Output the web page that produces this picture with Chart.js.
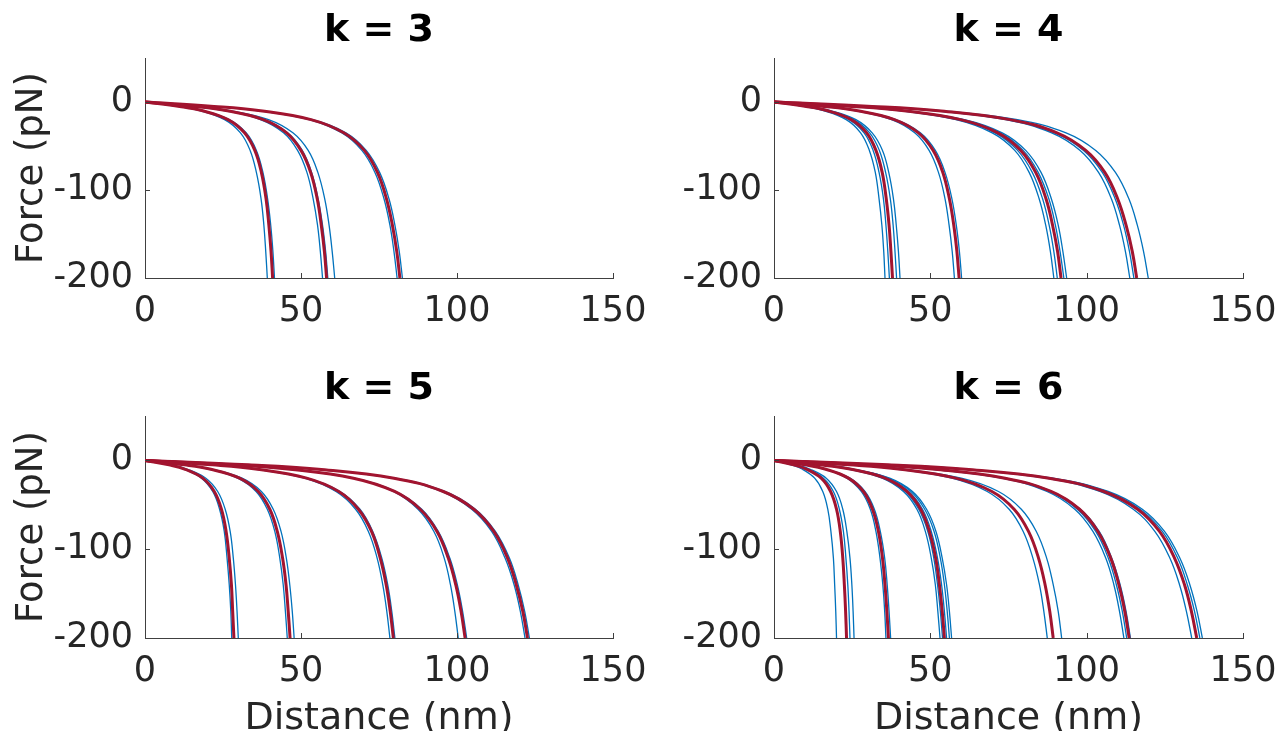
<!DOCTYPE html>
<html>
<head>
<meta charset="utf-8">
<script src="https://cdn.jsdelivr.net/npm/chart.js@4.4.0/dist/chart.umd.min.js"></script>
<style>
html, body { margin: 0; padding: 0; background: #fff; overflow: hidden; }
body { width: 1279px; height: 731px; position: relative; }
.panel { position: absolute; }
</style>
</head>
<body>
<div class="panel" style="left:640px;top:0px"><canvas id="k4" width="639" height="345"></canvas></div>
<div class="panel" style="left:640px;top:358px"><canvas id="k6" width="639" height="380"></canvas></div>
<div class="panel" style="left:0px;top:0px"><canvas id="k3" width="660" height="345"></canvas></div>
<div class="panel" style="left:0px;top:358px"><canvas id="k5" width="660" height="380"></canvas></div>
<script>
// Niveaux de force (pN) ou chaque courbe est relevee
const forceLevels = [0, -5, -10, -20, -35, -55, -80, -110, -140, -170, -200];
const xTicks = [0, 50, 100, 150];
const yTicks = [-200, -100, 0];

const k3Red = [
    [0, 11.1, 18.5, 26.6, 31.9, 35.2, 37.3, 38.8, 39.7, 40.4, 40.9],
    [0, 15.8, 26.4, 37.9, 45.4, 50.0, 53.1, 55.2, 56.5, 57.5, 58.2],
    [0, 22.1, 37.0, 53.2, 63.7, 70.3, 74.5, 77.4, 79.3, 80.7, 81.7]
];
const k3Blue = [
    [0, 10.6, 17.8, 25.5, 30.6, 33.7, 35.7, 37.2, 38.1, 38.7, 39.2],
    [0, 11.2, 18.8, 27.0, 32.4, 35.7, 37.8, 39.3, 40.3, 41.0, 41.5],
    [0, 15.4, 25.8, 37.0, 44.4, 48.9, 51.9, 53.9, 55.3, 56.2, 56.9],
    [0, 15.9, 26.6, 38.1, 45.7, 50.4, 53.4, 55.5, 56.9, 57.9, 58.6],
    [0, 16.5, 27.6, 39.6, 47.4, 52.3, 55.4, 57.6, 59.0, 60.0, 60.8],
    [0, 21.9, 36.6, 52.6, 63.0, 69.5, 73.7, 76.6, 78.5, 79.8, 80.8],
    [0, 22.3, 37.4, 53.7, 64.4, 70.9, 75.2, 78.2, 80.1, 81.5, 82.5]
];

const k4Red = [
    [0, 10.3, 17.2, 24.7, 29.6, 32.6, 34.6, 35.9, 36.8, 37.4, 37.9],
    [0, 16.0, 26.8, 38.5, 46.2, 50.9, 54.0, 56.1, 57.5, 58.5, 59.2],
    [0, 24.9, 41.6, 59.7, 71.6, 78.9, 83.7, 87.0, 89.1, 90.7, 91.8],
    [0, 31.4, 52.6, 75.5, 90.5, 99.7, 105.8, 109.9, 112.6, 114.6, 116.0]
];
const k4Blue = [
    [0, 9.6, 16.1, 23.1, 27.7, 30.5, 32.4, 33.6, 34.5, 35.1, 35.5],
    [0, 10.0, 16.7, 24.0, 28.8, 31.7, 33.6, 35.0, 35.8, 36.4, 36.9],
    [0, 10.6, 17.8, 25.5, 30.6, 33.7, 35.7, 37.2, 38.1, 38.7, 39.2],
    [0, 10.9, 18.3, 26.2, 31.4, 34.7, 36.7, 38.2, 39.1, 39.8, 40.3],
    [0, 15.6, 26.2, 37.6, 45.0, 49.6, 52.6, 54.7, 56.0, 57.0, 57.7],
    [0, 16.2, 27.2, 39.0, 46.8, 51.6, 54.7, 56.9, 58.3, 59.3, 60.0],
    [0, 24.2, 40.6, 58.2, 69.8, 77.0, 81.6, 84.8, 86.9, 88.4, 89.5],
    [0, 24.5, 41.1, 59.0, 70.7, 77.9, 82.6, 85.9, 88.0, 89.5, 90.6],
    [0, 25.1, 42.0, 60.3, 72.3, 79.7, 84.5, 87.9, 90.0, 91.5, 92.7],
    [0, 25.3, 42.4, 60.9, 73.0, 80.5, 85.4, 88.7, 90.9, 92.4, 93.6],
    [0, 30.8, 51.6, 74.1, 88.8, 97.9, 103.8, 107.9, 110.5, 112.4, 113.8],
    [0, 31.2, 52.2, 74.9, 89.8, 99.0, 105.0, 109.1, 111.8, 113.7, 115.1],
    [0, 32.4, 54.3, 77.9, 93.4, 102.9, 109.2, 113.5, 116.2, 118.2, 119.7]
];

const k5Red = [
    [0, 7.7, 12.9, 18.5, 22.2, 24.5, 26.0, 27.0, 27.7, 28.1, 28.5],
    [0, 12.6, 21.1, 30.3, 36.3, 40.0, 42.4, 44.1, 45.2, 45.9, 46.5],
    [0, 21.6, 36.1, 51.8, 62.1, 68.4, 72.6, 75.4, 77.3, 78.6, 79.6],
    [0, 27.8, 46.5, 66.8, 80.0, 88.2, 93.6, 97.2, 99.6, 101.3, 102.6],
    [0, 33.2, 55.6, 79.8, 95.6, 105.4, 111.8, 116.2, 119.0, 121.1, 122.6]
];
const k5Blue = [
    [0, 7.5, 12.6, 18.1, 21.7, 23.9, 25.4, 26.3, 27.0, 27.5, 27.8],
    [0, 8.1, 13.6, 19.5, 23.3, 25.7, 27.3, 28.3, 29.0, 29.5, 29.9],
    [0, 12.3, 20.7, 29.7, 35.6, 39.2, 41.6, 43.2, 44.3, 45.0, 45.6],
    [0, 12.9, 21.7, 31.1, 37.3, 41.1, 43.6, 45.3, 46.4, 47.2, 47.8],
    [0, 21.3, 35.6, 51.1, 61.2, 67.5, 71.6, 74.4, 76.2, 77.5, 78.5],
    [0, 21.7, 36.3, 52.1, 62.5, 68.9, 73.0, 75.9, 77.8, 79.1, 80.1],
    [0, 27.7, 46.3, 66.5, 79.6, 87.5, 92.6, 95.9, 97.9, 99.3, 100.4],
    [0, 27.9, 46.7, 67.1, 80.4, 88.7, 94.0, 97.7, 100.1, 101.8, 103.1],
    [0, 33.0, 55.2, 79.3, 95.0, 104.7, 111.1, 115.4, 118.3, 120.3, 121.8],
    [0, 33.4, 55.8, 80.2, 96.1, 105.9, 112.3, 116.8, 119.6, 121.7, 123.2]
];

const k6Red = [
    [0, 6.3, 10.5, 15.1, 18.1, 20.0, 21.2, 22.0, 22.5, 22.9, 23.2],
    [0, 9.9, 16.6, 23.8, 28.6, 31.5, 33.4, 34.7, 35.5, 36.1, 36.6],
    [0, 14.8, 24.7, 35.5, 42.5, 46.9, 49.7, 51.7, 52.9, 53.8, 54.5],
    [0, 24.2, 40.5, 58.1, 69.7, 76.8, 81.4, 84.6, 86.7, 88.2, 89.3],
    [0, 30.8, 51.5, 73.9, 88.6, 97.7, 103.6, 107.7, 110.3, 112.2, 113.6],
    [0, 36.6, 61.3, 88.0, 105.5, 116.3, 123.3, 128.1, 131.3, 133.5, 135.2]
];
const k6Blue = [
    [0, 5.4, 9.1, 13.0, 15.6, 17.2, 18.2, 19.0, 19.4, 19.75, 20.0],
    [0, 6.6, 11.0, 15.8, 19.0, 20.9, 22.2, 23.0, 23.6, 24.0, 24.3],
    [0, 6.9, 11.6, 16.7, 20.0, 22.0, 23.3, 24.3, 24.9, 25.3, 25.6],
    [0, 9.7, 16.2, 23.3, 27.9, 30.8, 32.6, 33.9, 34.8, 35.4, 35.8],
    [0, 10.1, 16.9, 24.3, 29.1, 32.1, 34.0, 35.4, 36.2, 36.8, 37.3],
    [0, 14.4, 24.1, 34.6, 41.4, 45.7, 48.4, 50.3, 51.6, 52.4, 53.1],
    [0, 14.6, 24.4, 35.1, 42.0, 46.3, 49.2, 51.1, 52.3, 53.2, 53.9],
    [0, 14.9, 25.0, 35.9, 43.1, 47.5, 50.3, 52.3, 53.6, 54.5, 55.2],
    [0, 15.2, 25.4, 36.5, 43.8, 48.2, 51.2, 53.2, 54.5, 55.4, 56.1],
    [0, 15.4, 25.7, 37.0, 44.3, 48.8, 51.8, 53.8, 55.2, 56.1, 56.8],
    [0, 23.7, 39.6, 56.9, 68.2, 75.2, 79.7, 82.8, 84.9, 86.3, 87.4],
    [0, 24.9, 41.7, 59.9, 71.8, 79.1, 83.9, 87.2, 89.3, 90.9, 92.0],
    [0, 30.3, 50.7, 72.8, 87.3, 96.2, 102.0, 106.1, 108.7, 110.5, 111.9],
    [0, 30.5, 51.1, 73.4, 88.0, 97.0, 102.9, 106.9, 109.5, 111.4, 112.8],
    [0, 30.9, 51.7, 74.2, 88.9, 98.0, 104.0, 108.0, 110.7, 112.6, 114.0],
    [0, 36.2, 60.6, 86.9, 104.2, 114.9, 121.8, 126.6, 129.7, 131.9, 133.6],
    [0, 36.9, 61.7, 88.6, 106.2, 117.1, 124.2, 129.1, 132.2, 134.5, 136.2],
    [0, 37.1, 62.1, 89.2, 106.9, 117.8, 124.9, 129.8, 133.0, 135.3, 137.0]
];

const ROUGE = '#A2142F';
const BLEU = '#0072BD';
const AXE = '#404040';
const TEXTE = '#262626';
const POLICE = 'DejaVu Sans';

// Petits traits de graduation tournes vers l'interieur (style MATLAB)
const traitsInterieurs = {
    id: 'traitsInterieurs',
    afterDatasetsDraw(chart) {
        const { ctx, chartArea, scales } = chart;
        ctx.save();
        ctx.strokeStyle = AXE;
        ctx.lineWidth = 1;
        ctx.beginPath();
        xTicks.forEach(v => {
            const px = Math.round(scales.x.getPixelForValue(v)) + 0.5;
            ctx.moveTo(px, chartArea.bottom);
            ctx.lineTo(px, chartArea.bottom - 5);
        });
        yTicks.forEach(v => {
            const py = Math.round(scales.y.getPixelForValue(v)) + 0.5;
            ctx.moveTo(chartArea.left, py);
            ctx.lineTo(chartArea.left + 5, py);
        });
        ctx.stroke();
        ctx.restore();
    }
};

function courbe(xs, couleur, epaisseur) {
    return {
        data: xs.map((x, i) => ({ x: x, y: forceLevels[i] })),
        borderColor: couleur,
        borderWidth: epaisseur,
        pointRadius: 0,
        fill: false,
        tension: 0.4
    };
}

// Construire un panneau
function panneau(id, titre, rouges, bleus, cfg) {
    const datasets = [];
    rouges.forEach(r => datasets.push(courbe(r, ROUGE, 3)));
    bleus.forEach(b => datasets.push(courbe(b, BLEU, 1.3)));

    new Chart(document.getElementById(id), {
        type: 'line',
        data: { datasets: datasets },
        plugins: [traitsInterieurs],
        options: {
            responsive: false,
            animation: false,
            events: [],
            layout: { padding: { left: 0, right: cfg.right, top: 0, bottom: 0 } },
            plugins: {
                legend: { display: false },
                tooltip: { enabled: false },
                title: {
                    display: true,
                    text: titre,
                    fullSize: false,
                    color: '#000',
                    font: { family: POLICE, size: 38, weight: 'bold', lineHeight: 1 },
                    padding: { top: 12, bottom: 8 }
                }
            },
            scales: {
                x: {
                    type: 'linear',
                    min: 0,
                    max: 150,
                    afterBuildTicks: s => { s.ticks = xTicks.map(v => ({ value: v })); },
                    afterFit: s => { s.height = cfg.xHeight; s.paddingLeft = 0; s.paddingRight = 0; },
                    grid: { display: false, drawTicks: false },
                    border: { display: true, color: AXE, width: 1 },
                    ticks: { color: TEXTE, padding: 16, maxRotation: 0, autoSkip: false,
                             font: { family: POLICE, size: 35, lineHeight: 1 } },
                    title: { display: cfg.xLabel, text: 'Distance (nm)', color: TEXTE,
                             font: { family: POLICE, size: 38, lineHeight: 1 },
                             padding: { top: 0, bottom: 0 } }
                },
                y: {
                    type: 'linear',
                    min: -200,
                    max: 50,
                    afterBuildTicks: s => { s.ticks = yTicks.map(v => ({ value: v })); },
                    afterFit: s => { s.width = cfg.yWidth; s.paddingTop = 0; s.paddingBottom = 0; },
                    grid: { display: false, drawTicks: false },
                    border: { display: true, color: AXE, width: 1 },
                    ticks: { color: TEXTE, padding: 12, autoSkip: false,
                             font: { family: POLICE, size: 35, lineHeight: 1 } },
                    title: { display: cfg.yLabel, text: 'Force (pN)', color: TEXTE,
                             font: { family: POLICE, size: 37, lineHeight: 1 },
                             padding: { top: 14, bottom: 0 } }
                }
            }
        }
    });
}

panneau('k4', 'k = 4', k4Red, k4Blue, { right: 36, xHeight: 67, yWidth: 134, xLabel: false, yLabel: false });
panneau('k6', 'k = 6', k6Red, k6Blue, { right: 36, xHeight: 100, yWidth: 134, xLabel: true, yLabel: false });
panneau('k3', 'k = 3', k3Red, k3Blue, { right: 47, xHeight: 67, yWidth: 145, xLabel: false, yLabel: true });
panneau('k5', 'k = 5', k5Red, k5Blue, { right: 47, xHeight: 100, yWidth: 145, xLabel: true, yLabel: true });
</script>
</body>
</html>
